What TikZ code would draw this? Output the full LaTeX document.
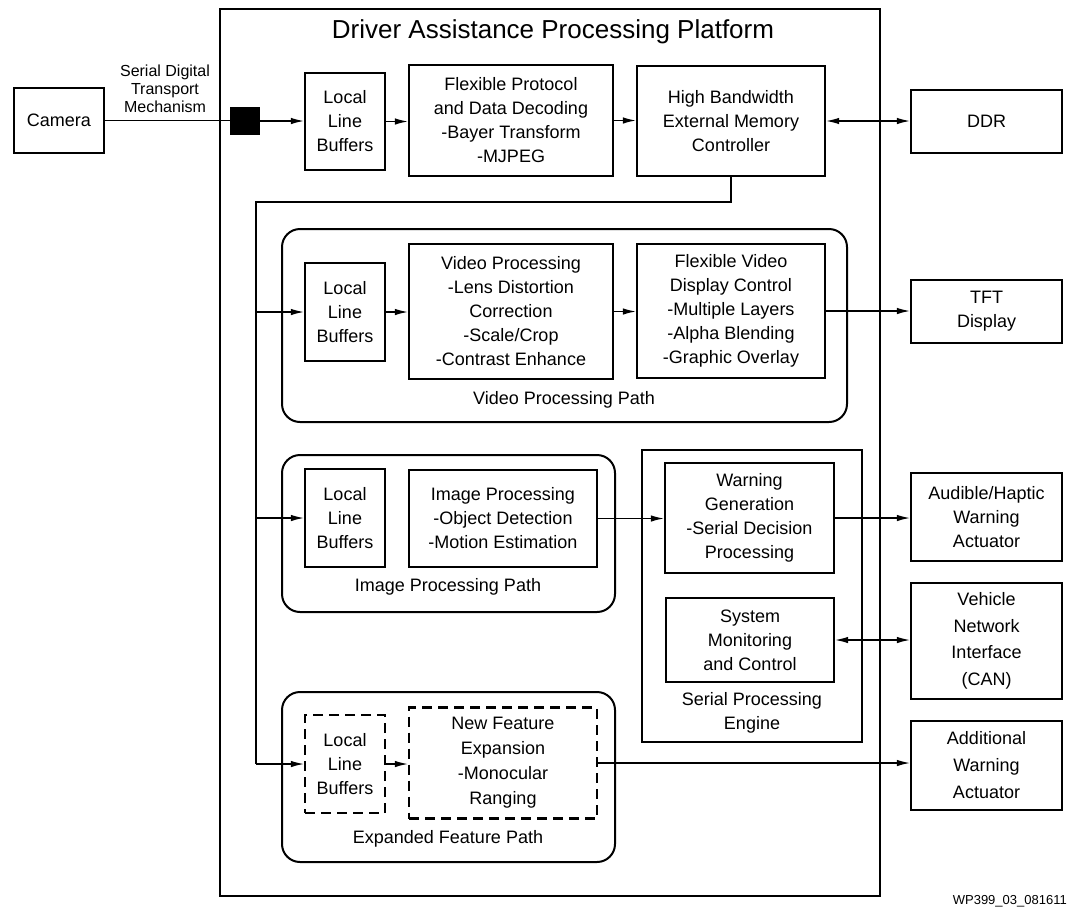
\documentclass[tikz,border=0pt]{standalone}
\usepackage{fontspec}
\setmainfont{Liberation Sans}
\usetikzlibrary{arrows.meta}
\tikzset{
  box/.style={draw, line width=2.2pt, align=center, inner sep=2pt, font=\fontsize{18}{24}\selectfont},
  dbox/.style={box, dash pattern=on 10pt off 6pt},
  conn/.style={line width=1.3pt},
  arr/.style={conn, -{Latex[length=13pt,width=6.5pt]}},
  darr/.style={conn, {Latex[length=13pt,width=6.5pt]}-{Latex[length=13pt,width=6.5pt]}},
  pathbox/.style={draw, line width=2pt, rounded corners=18pt},
  lbl/.style={font=\fontsize{18}{24}\selectfont, align=center, inner sep=0pt},
}
\begin{document}
\begin{tikzpicture}[x=1pt,y=-1pt]
\useasboundingbox (0,0) rectangle (1070,916);
% platform
\draw[line width=2.4pt] (220,9) rectangle (880,896);
\node[font=\fontsize{26}{30}\selectfont, inner sep=0pt] (title) at (553,32) {Driver Assistance Processing Platform};
% top row
\node[box, minimum width=90pt, minimum height=65pt] (cam) at (59,120.5) {Camera};
\node[font=\fontsize{16}{18}\selectfont, align=center, inner sep=0pt] (sdtm) at (165,89) {Serial Digital\\Transport\\Mechanism};
\node[draw, fill=black, line width=1pt, minimum width=29pt, minimum height=27pt, inner sep=0pt] (sq) at (245,121) {};
\node[box, minimum width=80pt, minimum height=97pt] (llb1) at (345,121.5) {Local\\Line\\Buffers};
\node[box, minimum width=204pt, minimum height=111pt] (fp) at (511,120.5) {Flexible Protocol\\and Data Decoding\\-Bayer Transform\\-MJPEG};
\node[box, minimum width=188pt, minimum height=110pt] (hb) at (731,121) {High Bandwidth\\External Memory\\Controller};
\node[box, minimum width=151pt, minimum height=63pt] (ddr) at (986.5,121.5) {DDR};
\draw[conn] (cam.east) -- (cam.east -| sq.west);
\draw[arr] (sq.east) -- (sq.east -| llb1.west);
\draw[arr] (llb1.east) -- (llb1.east -| fp.west);
\draw[arr] (fp.east) -- (fp.east -| hb.west);
\draw[darr] (hb.east) -- (hb.east -| ddr.west);
% video processing path
\draw[pathbox] (282,229) rectangle (847,422);
\node[lbl] (vpp) at (564,400) {Video Processing Path};
\node[box, minimum width=80pt, minimum height=98pt] (llb2) at (345,312) {Local\\Line\\Buffers};
\node[box, minimum width=204pt, minimum height=135pt] (vp) at (511,311.5) {Video Processing\\-Lens Distortion\\Correction\\-Scale/Crop\\-Contrast Enhance};
\node[box, minimum width=188pt, minimum height=134pt] (fvd) at (731,311) {Flexible Video\\Display Control\\-Multiple Layers\\-Alpha Blending\\-Graphic Overlay};
\node[box, minimum width=151pt, minimum height=63pt] (tft) at (986.5,311.5) {TFT\\Display};
\draw[arr] (llb2.east) -- (llb2.east -| vp.west);
\draw[arr] (vp.east) -- (vp.east -| fvd.west);
\draw[arr] (fvd.east) -- (fvd.east -| tft.west);
% image processing path
\draw[pathbox] (282,455) rectangle (615,612);
\node[lbl] (ipp) at (448,587) {Image Processing Path};
\node[box, minimum width=80pt, minimum height=98pt] (llb3) at (345,518) {Local\\Line\\Buffers};
\node[box, minimum width=188pt, minimum height=97pt] (ip) at (503,518.5) {Image Processing\\-Object Detection\\-Motion Estimation};
% serial processing engine
\draw[line width=2pt] (642,450) rectangle (862,742);
\node[lbl] (spe) at (752,713) {Serial Processing\\Engine};
\node[box, minimum width=169pt, minimum height=110pt] (wg) at (749.5,518) {Warning\\Generation\\-Serial Decision\\Processing};
\node[box, minimum width=168pt, minimum height=84pt] (smc) at (750,640) {System\\Monitoring\\and Control};
\node[box, minimum width=151pt, minimum height=88pt] (ahw) at (986.5,517) {Audible/Haptic\\Warning\\Actuator};
\node[box, minimum width=151pt, minimum height=116pt, font=\fontsize{18}{26.5}\selectfont] (vni) at (986.5,641) {Vehicle\\Network\\Interface\\(CAN)};
\draw[arr] (ip.east) -- (ip.east -| wg.west);
\draw[arr] (wg.east) -- (wg.east -| ahw.west);
\draw[darr] (smc.east) -- (smc.east -| vni.west);
% expanded feature path
\draw[pathbox] (282,692) rectangle (615,862);
\node[lbl] (efp) at (448,839) {Expanded Feature Path};
\node[dbox, minimum width=80pt, minimum height=98pt] (llb4) at (345,764) {Local\\Line\\Buffers};
\node[dbox, minimum width=188pt, minimum height=111pt, font=\fontsize{18}{25}\selectfont] (nf) at (503,763) {New Feature\\Expansion\\-Monocular\\Ranging};
\node[box, minimum width=151pt, minimum height=89pt, font=\fontsize{18}{27}\selectfont] (awa) at (986.5,765.5) {Additional\\Warning\\Actuator};
\draw[arr] (llb4.east) -- (llb4.east -| nf.west);
\draw[arr] (nf.east) -- (nf.east -| awa.west);
% distribution bus
\coordinate (b1) at (256,202);
\coordinate (b2) at (256,312);
\coordinate (b3) at (256,518);
\coordinate (b4) at (256,764);
\draw[conn] (hb.south) |- (b1) -- (b4);
\draw[arr] (b2) -- (llb2.west);
\draw[arr] (b3) -- (llb3.west);
\draw[arr] (b4) -- (llb4.west);
% figure id
\node[font=\fontsize{13}{15}\selectfont, anchor=east, inner sep=0pt] (fid) at (1067,901) {WP399\_03\_081611};
\end{tikzpicture}
\end{document}
